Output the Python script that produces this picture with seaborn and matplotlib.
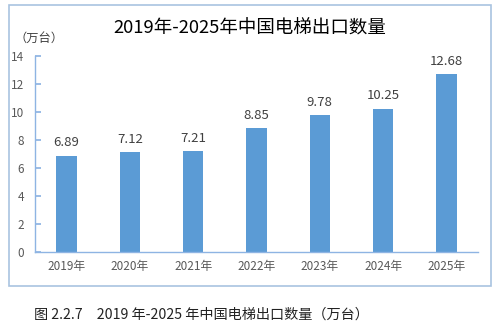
import matplotlib
matplotlib.use("Agg")
import matplotlib.pyplot as plt
import seaborn as sns
import pandas as pd
from matplotlib.patches import Rectangle

years = ["2019年", "2020年", "2021年", "2022年", "2023年", "2024年", "2025年"]
values = [6.89, 7.12, 7.21, 8.85, 9.78, 10.25, 12.68]
yticks = [0, 2, 4, 6, 8, 10, 12, 14]

sns.set_theme(style="white")
plt.rcParams['font.family'] = ['Noto Sans CJK SC', 'DejaVu Sans']

df = pd.DataFrame({"year": years, "value": values})

fig = plt.figure(figsize=(4.99, 3.31), dpi=100)
ax = fig.add_axes([0.070, 0.2387, 0.888, 0.5921])

sns.barplot(data=df, x="year", y="value", color="#5B9BD5", width=0.32,
            saturation=1, ax=ax, edgecolor="none")

for i, v in enumerate(values):
    ax.text(i, v + 0.45, f"{v:.2f}", ha="center", va="bottom",
            fontsize=9.5, color="#404040")

ax.set_ylim(0, 14)
ax.set_yticks(yticks)
ax.set_xlim(-0.5, 6.5)
ax.set_xlabel("")
ax.set_ylabel("")
for s in ["top", "right"]:
    ax.spines[s].set_visible(False)
axcol = "#8EB4E3"
ax.spines["left"].set_color(axcol)
ax.spines["bottom"].set_color(axcol)
ax.spines["left"].set_linewidth(1.0)
ax.spines["bottom"].set_linewidth(1.0)
ax.tick_params(axis="y", direction="in", length=4, color=axcol, labelsize=8.5,
               labelcolor="#595959", pad=8, left=True)
ax.tick_params(axis="x", length=0, labelsize=8.5, labelcolor="#595959", pad=6)

fig.text(0.50, 0.915, "2019年-2025年中国电梯出口数量", ha="center", va="center",
         fontsize=13.3, color="#000000")
fig.text(0.078, 0.885, "（万台）", ha="center", va="center", fontsize=8.8,
         color="#404040")

frame = Rectangle((9/499, 1-286/331), 482/499, 281/331, transform=fig.transFigure,
                  fill=False, edgecolor="#A9C4E0", linewidth=1.2)
fig.patches.append(frame)

fig.text(0.403, 0.05, "图 2.2.7　2019 年-2025 年中国电梯出口数量（万台）",
         ha="center", va="center", fontsize=10.2, color="#222222")

fig.savefig("out.png", dpi=100, facecolor="white")
